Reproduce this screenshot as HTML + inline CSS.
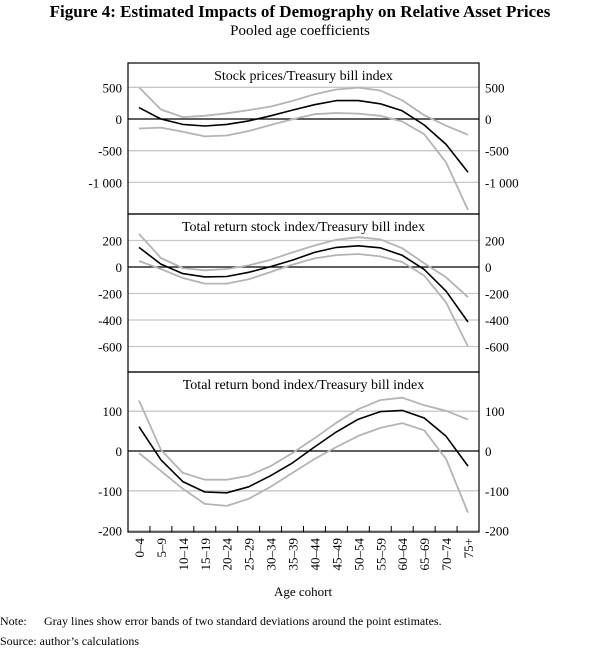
<!DOCTYPE html>
<html><head><meta charset="utf-8"><style>
body{margin:0;background:#fff;}
svg{display:block;font-family:"Liberation Serif",serif;}
</style></head><body>
<svg id="c" width="600" height="651" viewBox="0 0 600 651">
<text x="300" y="17" text-anchor="middle" font-size="17" font-weight="bold">Figure 4: Estimated Impacts of Demography on Relative Asset Prices</text>
<text x="300" y="35" text-anchor="middle" font-size="15">Pooled age coefficients</text>
<g id="plots"></g>
<text x="303" y="596" text-anchor="middle" font-size="13">Age cohort</text>
<text x="0" y="625" font-size="12">Note:</text>
<text x="44" y="625" font-size="12">Gray lines show error bands of two standard deviations around the point estimates.</text>
<text x="0" y="645" font-size="12">Source: author’s calculations</text>
</svg>
<script>
const categories=["0–4","5–9","10–14","15–19","20–24","25–29","30–34","35–39","40–44","45–49","50–54","55–59","60–64","65–69","70–74","75+"];
const p1Est=[180,0,-85,-110,-85,-30,50,140,225,290,290,240,130,-95,-400,-840];
const p1Up=[500,150,30,50,90,140,195,285,390,465,495,450,295,60,-105,-250];
const p1Lo=[-150,-135,-200,-275,-260,-190,-95,-5,75,95,85,50,-40,-240,-685,-1435];
const p2Est=[148,22,-50,-75,-72,-40,3,52,110,148,160,145,88,-18,-183,-415];
const p2Up=[250,68,-8,-25,-15,12,55,110,162,205,225,208,142,28,-78,-228];
const p2Lo=[45,-15,-83,-125,-125,-93,-38,18,65,90,98,80,38,-65,-268,-600];
const p3Est=[61,-22,-77,-103,-105,-90,-62,-30,10,48,80,99,102,83,37,-38];
const p3Up=[127,3,-55,-72,-72,-62,-38,-5,32,71,105,128,134,115,101,79];
const p3Lo=[-5,-50,-95,-133,-138,-120,-90,-55,-20,10,38,58,70,52,-20,-155];
const p1Ticks=[500,0,-500,-1000];const p1Labels=["500","0","-500","-1 000"];
const p2Ticks=[200,0,-200,-400,-600];const p2Labels=["200","0","-200","-400","-600"];
const p3Ticks=[100,0,-100,-200];const p3Labels=["100","0","-100","-200"];
const NS="http://www.w3.org/2000/svg";
const g=document.getElementById('plots');
const X0=128,X1=479,bw=(X1-X0)/categories.length;
function xs(i){return X0+bw*(i+0.5);}
function mk(t,a){const e=document.createElementNS(NS,t);for(const k in a)e.setAttribute(k,a[k]);g.appendChild(e);return e;}
const panels=[
 {top:63,bot:214,zero:119,k:0.0634,title:"Stock prices/Treasury bill index",ticks:p1Ticks,labels:p1Labels,est:p1Est,up:p1Up,lo:p1Lo,name:"stock-prices"},
 {top:214,bot:372,zero:267,k:0.1325,title:"Total return stock index/Treasury bill index",ticks:p2Ticks,labels:p2Labels,est:p2Est,up:p2Up,lo:p2Lo,name:"total-return-stock"},
 {top:372,bot:532,zero:451,k:0.398,title:"Total return bond index/Treasury bill index",ticks:p3Ticks,labels:p3Labels,est:p3Est,up:p3Up,lo:p3Lo,name:"total-return-bond"}
];
panels.forEach((p,pi)=>{
 const ys=v=>p.zero-v*p.k;
 p.ticks.forEach((t,i)=>{
  const y=ys(t);
  if(t!==0&&y<p.bot-1){const l=mk('line',{x1:X0,x2:X1,y1:y,y2:y,stroke:'#c8c8c8','stroke-width':1.3});
  
  }
  const a=mk('text',{x:122,y:y+5,'text-anchor':'end','font-size':13});a.textContent=p.labels[i];
  
  
  const b=mk('text',{x:485,y:y+5,'font-size':13});b.textContent=p.labels[i];
  
  
 });
 const z=mk('line',{x1:X0,x2:X1,y1:p.zero,y2:p.zero,stroke:'#000','stroke-width':1.2});
 
 
 const tt=mk('text',{x:(X0+X1)/2,y:p.top+17,'text-anchor':'middle','font-size':14});tt.textContent=p.title;
 
 
 [[p.up,'#b4b4b4','upper-band'],[p.lo,'#b4b4b4','lower-band'],[p.est,'#000','point-estimate']].forEach(s=>{
  const pts=s[0].map((v,i)=>xs(i).toFixed(1)+','+ys(v).toFixed(1)).join(' ');
  const pl=mk('polyline',{points:pts,fill:'none',stroke:s[1],'stroke-width':s[1]=='#000'?1.6:1.8,'stroke-linejoin':'round'});
  
  
 });
 const r=mk('rect',{x:X0,y:p.top,width:X1-X0,height:p.bot-p.top,fill:'none',stroke:'#000','stroke-width':1.2});
 
 
});
for(let i=1;i<categories.length;i++){
 const x=X0+bw*i;
 const t=mk('line',{x1:x,x2:x,y1:532,y2:526,stroke:'#000','stroke-width':1});
 
 
}
categories.forEach((c,i)=>{
 const x=xs(i)+5,y=538;
 const t=mk('text',{x:x,y:y,'text-anchor':'end','font-size':13,transform:'rotate(-90 '+x+' '+y+')'});
 t.textContent=c;
 
 
});
</script>
</body></html>
